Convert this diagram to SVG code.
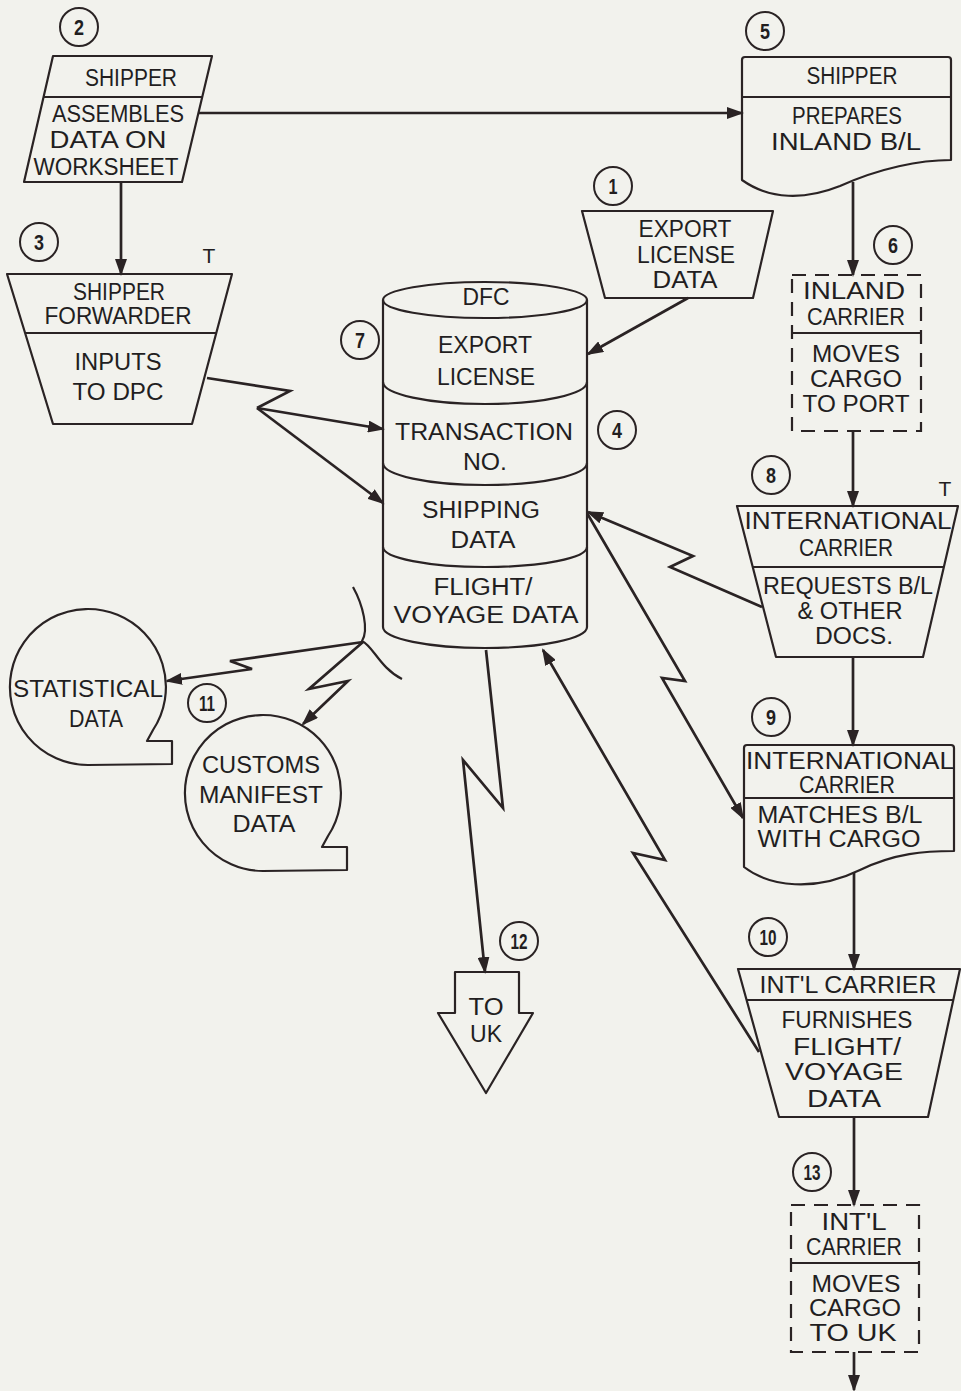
<svg xmlns="http://www.w3.org/2000/svg" width="961" height="1391" viewBox="0 0 961 1391">
  <style>
    .bg { fill: #f2f2ed; }
    .sh { fill: none; stroke: #2a2324; stroke-width: 2.2; stroke-linejoin: round; }
    .dash { fill: none; stroke: #2a2324; stroke-width: 2.2; stroke-dasharray: 14 9; }
    .ln { fill: none; stroke: #2a2324; stroke-width: 2.7; stroke-linejoin: miter; }
    .arr { marker-end: url(#ah); }
    .t { font-family: "Liberation Sans", Arial, sans-serif; font-size: 23px; fill: #221e1f; text-anchor: middle; }
    .n { font-family: "Liberation Sans Narrow", "Liberation Sans", Arial, sans-serif; font-size: 22px; font-weight: bold; fill: #221e1f; text-anchor: middle; }
    .num { fill: none; stroke: #2a2324; stroke-width: 2; }
  </style>
  <defs>
    <marker id="ah" markerUnits="userSpaceOnUse" markerWidth="18" markerHeight="12" refX="15" refY="6" orient="auto">
      <path d="M0,0 L17,6 L0,12 z" fill="#2a2324"/>
    </marker>
  </defs>

  <rect class="bg" x="0" y="0" width="961" height="1391"/>

  <!-- connectors -->
  <g id="connectors">
    <path class="ln arr" d="M121,182 L121,274"/>
    <path class="ln arr" d="M198,113 L742,113"/>
    <path class="ln arr" d="M688,298 L588,354"/>
    <path class="ln arr" d="M853,182 L853,275"/>
    <path class="ln arr" d="M853,431 L853,506"/>
    <path class="ln arr" d="M853,657 L853,745"/>
    <path class="ln arr" d="M854,872 L854,969"/>
    <path class="ln arr" d="M854,1117 L854,1205"/>
    <path class="ln arr" d="M854,1352 L854,1390"/>
    <!-- shipper/forwarder to DFC -->
    <path class="ln" d="M207,378 L290,391 L257,408"/>
    <path class="ln arr" d="M257,408 L383,429"/>
    <path class="ln arr" d="M257,408 L383,503"/>
    <!-- international carrier requests -->
    <path class="ln arr" d="M762,607 L670,567 L693,556 L588,512"/>
    <!-- DFC to matching step -->
    <path class="ln arr" d="M587,513 L685,681 L662,678 L743,818"/>
    <!-- flight/voyage data back to DFC -->
    <path class="ln arr" d="M759,1052 L633,853 L665,860 L543,650"/>
    <!-- DFC to UK -->
    <path class="ln arr" d="M486,650 L503,808 L463,760 L485,972"/>
    <!-- brace and distribution -->
    <path class="sh" d="M353,587 C363,605 369,630 362,641 C373,646 380,668 402,679"/>
    <path class="ln arr" d="M363,642 L230,661 L252,669 L167,681"/>
    <path class="ln arr" d="M363,642 L309,689 L348,681 L303,724"/>
  </g>

  <!-- 2: shipper assembles data -->
  <g id="n2">
    <circle class="num" cx="79" cy="27" r="19"/>
    <text class="n" x="79" y="35" textLength="10" lengthAdjust="spacingAndGlyphs">2</text>
    <path class="sh" d="M53,56 L212,56 L182,182 L24,182 Z"/>
    <line class="sh" x1="44" y1="97" x2="203" y2="97"/>
    <text class="t" x="131" y="86" textLength="92" lengthAdjust="spacingAndGlyphs">SHIPPER</text>
    <text class="t" x="118" y="122" textLength="132" lengthAdjust="spacingAndGlyphs">ASSEMBLES</text>
    <text class="t" x="108" y="148" textLength="117" lengthAdjust="spacingAndGlyphs">DATA ON</text>
    <text class="t" x="106" y="175" textLength="145" lengthAdjust="spacingAndGlyphs">WORKSHEET</text>
  </g>

  <!-- 3: shipper forwarder -->
  <g id="n3">
    <circle class="num" cx="39" cy="242" r="19"/>
    <text class="n" x="39" y="250" textLength="10" lengthAdjust="spacingAndGlyphs">3</text>
    <text class="t" x="209" y="263" style="font-size:21px">T</text>
    <path class="sh" d="M7,274 L232,274 L192,424 L53,424 Z"/>
    <line class="sh" x1="25" y1="333" x2="216" y2="333"/>
    <text class="t" x="119" y="300" textLength="92" lengthAdjust="spacingAndGlyphs">SHIPPER</text>
    <text class="t" x="118" y="324" textLength="147" lengthAdjust="spacingAndGlyphs">FORWARDER</text>
    <text class="t" x="118" y="370" textLength="87" lengthAdjust="spacingAndGlyphs">INPUTS</text>
    <text class="t" x="118" y="400" textLength="91" lengthAdjust="spacingAndGlyphs">TO DPC</text>
  </g>

  <!-- 1: export license data -->
  <g id="n1">
    <circle class="num" cx="613" cy="186" r="19"/>
    <text class="n" x="613" y="194" textLength="9" lengthAdjust="spacingAndGlyphs">1</text>
    <path class="sh" d="M582,211 L773,211 L753,298 L605,298 Z"/>
    <text class="t" x="685" y="237" textLength="93" lengthAdjust="spacingAndGlyphs">EXPORT</text>
    <text class="t" x="686" y="263" textLength="98" lengthAdjust="spacingAndGlyphs">LICENSE</text>
    <text class="t" x="685" y="288" textLength="65" lengthAdjust="spacingAndGlyphs">DATA</text>
  </g>

  <!-- 5: shipper prepares inland B/L -->
  <g id="n5">
    <circle class="num" cx="765" cy="31" r="19"/>
    <text class="n" x="765" y="39" textLength="10" lengthAdjust="spacingAndGlyphs">5</text>
    <path class="sh" d="M742,180 L742,60 Q742,57 745,57 L948,57 Q951,57 951,60 L951,160 C920,160 880,168 840,186 C805,200 770,200 742,180 Z"/>
    <line class="sh" x1="742" y1="97" x2="951" y2="97"/>
    <text class="t" x="852" y="84" textLength="91" lengthAdjust="spacingAndGlyphs">SHIPPER</text>
    <text class="t" x="847" y="124" textLength="110" lengthAdjust="spacingAndGlyphs">PREPARES</text>
    <text class="t" x="846" y="150" textLength="150" lengthAdjust="spacingAndGlyphs">INLAND B/L</text>
  </g>

  <!-- 6: inland carrier -->
  <g id="n6">
    <circle class="num" cx="893" cy="245" r="19"/>
    <text class="n" x="893" y="253" textLength="10" lengthAdjust="spacingAndGlyphs">6</text>
    <rect class="dash" x="792" y="275" width="129" height="156"/>
    <line class="sh" x1="792" y1="333" x2="921" y2="333"/>
    <text class="t" x="854" y="299" textLength="102" lengthAdjust="spacingAndGlyphs">INLAND</text>
    <text class="t" x="856" y="325" textLength="98" lengthAdjust="spacingAndGlyphs">CARRIER</text>
    <text class="t" x="856" y="362" textLength="88" lengthAdjust="spacingAndGlyphs">MOVES</text>
    <text class="t" x="856" y="387" textLength="92" lengthAdjust="spacingAndGlyphs">CARGO</text>
    <text class="t" x="856" y="412" textLength="107" lengthAdjust="spacingAndGlyphs">TO PORT</text>
  </g>

  <!-- 4 / 7: DFC data file -->
  <g id="dfc">
    <circle class="num" cx="360" cy="340" r="19"/>
    <text class="n" x="360" y="348" textLength="10" lengthAdjust="spacingAndGlyphs">7</text>
    <circle class="num" cx="617" cy="430" r="19"/>
    <text class="n" x="617" y="438" textLength="10" lengthAdjust="spacingAndGlyphs">4</text>
    <ellipse class="sh" cx="485" cy="300" rx="102" ry="18"/>
    <path class="sh" d="M383,300 L383,627 A102,21 0 0 0 587,627 L587,300"/>
    <path class="sh" d="M383,382 A102,22 0 0 0 587,382"/>
    <path class="sh" d="M383,463 A102,22 0 0 0 587,463"/>
    <path class="sh" d="M383,547 A102,20 0 0 0 587,547"/>
    <text class="t" x="486" y="305" textLength="47" lengthAdjust="spacingAndGlyphs">DFC</text>
    <text class="t" x="485" y="353" textLength="94" lengthAdjust="spacingAndGlyphs">EXPORT</text>
    <text class="t" x="486" y="385" textLength="98" lengthAdjust="spacingAndGlyphs">LICENSE</text>
    <text class="t" x="484" y="440" textLength="178" lengthAdjust="spacingAndGlyphs">TRANSACTION</text>
    <text class="t" x="485" y="470" textLength="44" lengthAdjust="spacingAndGlyphs">NO.</text>
    <text class="t" x="481" y="518" textLength="118" lengthAdjust="spacingAndGlyphs">SHIPPING</text>
    <text class="t" x="483" y="548" textLength="65" lengthAdjust="spacingAndGlyphs">DATA</text>
    <text class="t" x="483" y="595" textLength="99" lengthAdjust="spacingAndGlyphs">FLIGHT/</text>
    <text class="t" x="486" y="623" textLength="185" lengthAdjust="spacingAndGlyphs">VOYAGE DATA</text>
  </g>

  <!-- 8: international carrier requests documents -->
  <g id="n8">
    <circle class="num" cx="771" cy="475" r="19"/>
    <text class="n" x="771" y="483" textLength="10" lengthAdjust="spacingAndGlyphs">8</text>
    <text class="t" x="945" y="496" style="font-size:21px">T</text>
    <path class="sh" d="M737,506 L958,506 L923,657 L776,657 Z"/>
    <line class="sh" x1="753" y1="567" x2="944" y2="567"/>
    <text class="t" x="848" y="529" textLength="207" lengthAdjust="spacingAndGlyphs">INTERNATIONAL</text>
    <text class="t" x="846" y="556" textLength="94" lengthAdjust="spacingAndGlyphs">CARRIER</text>
    <text class="t" x="848" y="594" textLength="170" lengthAdjust="spacingAndGlyphs">REQUESTS B/L</text>
    <text class="t" x="850" y="619" textLength="105" lengthAdjust="spacingAndGlyphs">&amp; OTHER</text>
    <text class="t" x="854" y="644" textLength="78" lengthAdjust="spacingAndGlyphs">DOCS.</text>
  </g>

  <!-- 9: international carrier matches B/L -->
  <g id="n9">
    <circle class="num" cx="771" cy="717" r="19"/>
    <text class="n" x="771" y="725" textLength="10" lengthAdjust="spacingAndGlyphs">9</text>
    <path class="sh" d="M744,867 L744,748 Q744,745 747,745 L951,745 Q954,745 954,748 L954,851 C925,851 895,853 860,870 C815,892 770,887 744,867 Z"/>
    <line class="sh" x1="744" y1="798" x2="954" y2="798"/>
    <text class="t" x="850" y="769" textLength="208" lengthAdjust="spacingAndGlyphs">INTERNATIONAL</text>
    <text class="t" x="847" y="793" textLength="96" lengthAdjust="spacingAndGlyphs">CARRIER</text>
    <text class="t" x="840" y="823" textLength="165" lengthAdjust="spacingAndGlyphs">MATCHES B/L</text>
    <text class="t" x="839" y="847" textLength="163" lengthAdjust="spacingAndGlyphs">WITH CARGO</text>
  </g>

  <!-- 10: int'l carrier furnishes flight/voyage data -->
  <g id="n10">
    <circle class="num" cx="768" cy="937" r="19"/>
    <text class="n" x="768" y="945" textLength="17" lengthAdjust="spacingAndGlyphs">10</text>
    <path class="sh" d="M738,969 L960,969 L928,1117 L779,1117 Z"/>
    <line class="sh" x1="747" y1="1000" x2="953" y2="1000"/>
    <text class="t" x="848" y="993" textLength="177" lengthAdjust="spacingAndGlyphs">INT'L CARRIER</text>
    <text class="t" x="847" y="1028" textLength="131" lengthAdjust="spacingAndGlyphs">FURNISHES</text>
    <text class="t" x="847" y="1055" textLength="108" lengthAdjust="spacingAndGlyphs">FLIGHT/</text>
    <text class="t" x="844" y="1080" textLength="118" lengthAdjust="spacingAndGlyphs">VOYAGE</text>
    <text class="t" x="844" y="1107" textLength="74" lengthAdjust="spacingAndGlyphs">DATA</text>
  </g>

  <!-- 13: int'l carrier moves cargo to UK -->
  <g id="n13">
    <circle class="num" cx="812" cy="1172" r="19"/>
    <text class="n" x="812" y="1180" textLength="17" lengthAdjust="spacingAndGlyphs">13</text>
    <rect class="dash" x="791" y="1205" width="128" height="147"/>
    <line class="sh" x1="791" y1="1263" x2="919" y2="1263"/>
    <text class="t" x="854" y="1230" textLength="65" lengthAdjust="spacingAndGlyphs">INT'L</text>
    <text class="t" x="854" y="1255" textLength="96" lengthAdjust="spacingAndGlyphs">CARRIER</text>
    <text class="t" x="856" y="1292" textLength="89" lengthAdjust="spacingAndGlyphs">MOVES</text>
    <text class="t" x="855" y="1316" textLength="92" lengthAdjust="spacingAndGlyphs">CARGO</text>
    <text class="t" x="853" y="1341" textLength="87" lengthAdjust="spacingAndGlyphs">TO UK</text>
  </g>

  <!-- 12: to UK -->
  <g id="n12">
    <circle class="num" cx="519" cy="941" r="19"/>
    <text class="n" x="519" y="949" textLength="17" lengthAdjust="spacingAndGlyphs">12</text>
    <path class="sh" d="M455,972 L519,972 L519,1013 L533,1013 L486,1093 L438,1013 L455,1013 Z"/>
    <text class="t" x="486" y="1015" textLength="35" lengthAdjust="spacingAndGlyphs">TO</text>
    <text class="t" x="486" y="1042" textLength="32" lengthAdjust="spacingAndGlyphs">UK</text>
  </g>

  <!-- 11: statistical and customs manifest data -->
  <g id="n11">
    <circle class="num" cx="207" cy="703" r="19"/>
    <text class="n" x="207" y="711" textLength="16" lengthAdjust="spacingAndGlyphs">11</text>
  </g>
  <g id="n11-statistical">
    <path class="sh" d="M153,730 L147,741 L172,741 L172,764 L88,765 A78,78 0 1 1 153,730 Z"/>
    <text class="t" x="88" y="697" textLength="150" lengthAdjust="spacingAndGlyphs">STATISTICAL</text>
    <text class="t" x="96" y="727" textLength="54" lengthAdjust="spacingAndGlyphs">DATA</text>
  </g>
  <g id="n11-customs">
    <path class="sh" d="M328,836 L322,847 L347,847 L347,870 L263,871 A78,78 0 1 1 328,836 Z"/>
    <text class="t" x="261" y="773" textLength="118" lengthAdjust="spacingAndGlyphs">CUSTOMS</text>
    <text class="t" x="261" y="803" textLength="124" lengthAdjust="spacingAndGlyphs">MANIFEST</text>
    <text class="t" x="264" y="832" textLength="63" lengthAdjust="spacingAndGlyphs">DATA</text>
  </g>
</svg>
